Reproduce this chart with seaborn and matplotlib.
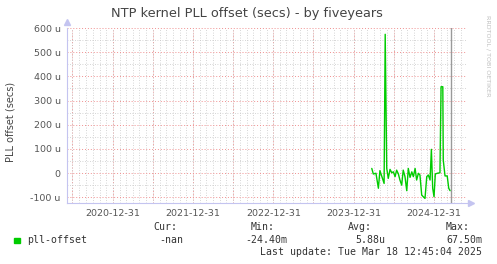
import matplotlib
matplotlib.use("Agg")
import matplotlib.pyplot as plt
import matplotlib.dates as mdates
import pandas as pd
import seaborn as sns

# ---- data ----
dates = ["2024-03-23", "2024-03-30", "2024-04-11", "2024-04-22", "2024-04-29",
         "2024-05-08", "2024-05-18", "2024-05-23", "2024-05-30", "2024-06-06",
         "2024-06-14", "2024-06-22", "2024-06-29", "2024-07-07", "2024-07-14",
         "2024-07-22", "2024-07-29", "2024-08-06", "2024-08-13", "2024-08-21",
         "2024-08-29", "2024-09-05", "2024-09-13", "2024-09-21", "2024-09-28",
         "2024-10-06", "2024-10-13", "2024-10-21", "2024-10-28", "2024-11-05",
         "2024-11-12", "2024-11-20", "2024-11-28", "2024-12-05", "2024-12-13",
         "2024-12-19", "2024-12-25", "2024-12-31", "2025-01-06", "2025-01-15",
         "2025-01-27", "2025-02-01", "2025-02-09", "2025-02-11", "2025-02-19",
         "2025-03-01", "2025-03-08", "2025-03-14"]
offset_us = [19, -4, -1, -63, 10,
             -15, -43, 574, 19, -22,
             15, 1, 5, -15, 12,
             -4, -29, -50, 12, -15,
             -73, 19, -18, 5, -15,
             19, -29, -1, -8, -91,
             -98, -105, -15, -8, -29,
             98, -63, -98, -4, -1,
             1, 357, 357, 54, -12,
             -12, -63, -73]

tick_dates = ["2020-12-31", "2021-12-31", "2022-12-31", "2023-12-31", "2024-12-31"]
tick_labels = ["2020-12-31", "2021-12-31", "2022-12-31", "2023-12-31", "2024-12-31"]
mid_dates = ["2020-06-30", "2021-06-30", "2022-06-30", "2023-06-30", "2024-06-30"]
y_ticks = [-100, 0, 100, 200, 300, 400, 500, 600]
y_tick_labels = ["-100 u", "0", "100 u", "200 u", "300 u", "400 u", "500 u", "600 u"]

title = "NTP kernel PLL offset (secs) - by fiveyears"
ylabel = "PLL offset (secs)"
series_name = "pll-offset"
stat_heads = ["Cur:", "Min:", "Avg:", "Max:"]
stat_vals = ["-nan", "-24.40m", "5.88u", "67.50m"]
last_update = "Last update: Tue Mar 18 12:45:04 2025"
now_date = "2025-03-18"
x_start, x_end = "2020-06-06", "2025-05-30"

df = pd.DataFrame({"date": pd.to_datetime(dates), "offset": offset_us})

sns.set_theme(style="white")
plt.rcParams["font.family"] = ["DejaVu Sans"]

W, H = 497, 264
fig = plt.figure(figsize=(W / 100, H / 100), dpi=100)
fig.patch.set_facecolor("white")
ax = fig.add_axes([67 / W, (H - 203) / H, 400 / W, 175 / H])
ax.set_facecolor("white")

red = "#F09090"
grey = "#C8C8C8"
axis_col = "#C4C4F0"
txt = "#555555"

# grid
ax.xaxis_date()
major_locs = sorted(pd.to_datetime(tick_dates + mid_dates))
lab_map = dict(zip(pd.to_datetime(tick_dates), tick_labels))
ax.set_xticks(major_locs)
ax.set_xticklabels([lab_map.get(d, "") for d in major_locs])
ax.xaxis.set_minor_locator(mdates.MonthLocator())
ax.set_yticks(y_ticks)
ax.set_yticklabels(y_tick_labels)
ax.set_yticks([v + 50 for v in y_ticks[:-1]], minor=True)
ax.set_xlim(pd.Timestamp(x_start), pd.Timestamp(x_end))
ax.set_ylim(-124, 600)

ax.grid(True, which="minor", color=grey, linestyle=(0, (1, 2)), linewidth=0.6)
ax.grid(True, which="major", color=red, linestyle=(0, (1, 2)), linewidth=0.7)
ax.set_axisbelow(True)

ax.tick_params(axis="both", which="major", length=2.5, width=0.6, color=red,
               labelsize=6.8, labelcolor=txt, pad=2)
ax.tick_params(axis="both", which="minor", length=1.5, width=0.5, color=grey)

for s in ["top", "right"]:
    ax.spines[s].set_visible(False)
for s in ["left", "bottom"]:
    ax.spines[s].set_color(axis_col)
    ax.spines[s].set_linewidth(0.8)

# now line
ax.axvline(pd.Timestamp(now_date), color="#999999", lw=1, zorder=3)

# data line
sns.lineplot(data=df, x="date", y="offset", ax=ax, color="#00CC00", lw=1,
             zorder=4, legend=False)
ax.set_xlabel("")
ax.set_ylabel("")

# axis arrows
ax.plot([0], [1.035], marker="^", color=axis_col, markersize=4,
        transform=ax.transAxes, clip_on=False)
ax.plot([1.01], [0], marker=">", color=axis_col, markersize=4,
        transform=ax.transAxes, clip_on=False)

# texts
def fx(x):
    return x / W

def fy(y):
    return 1 - y / H

fig.text(fx(247), fy(14), title, ha="center", va="center", fontsize=9.3, color="#444444")
fig.text(fx(11), fy(122), ylabel, ha="center", va="center", rotation=90,
         fontsize=7, color="#444444")
fig.text(fx(488), fy(15), "RRDTOOL / TOBI OETIKER", ha="center", va="top",
         rotation=270, fontsize=4.6, color="#C0C0C0")

mono = "DejaVu Sans Mono"
fs = 7.1
fig.patches.append(plt.Rectangle((fx(14), fy(243)), 6 / W, 5 / H,
                                 transform=fig.transFigure, color="#00CC00"))
fig.text(fx(27), fy(240), series_name, ha="left", va="center", family=mono,
         fontsize=fs, color="#333333")
head_x = [177, 275, 372, 470]
val_x = [183, 287, 385, 482]
for h, hx in zip(stat_heads, head_x):
    fig.text(fx(hx), fy(227), h, ha="right", va="center", family=mono,
             fontsize=fs, color="#333333")
for v, vx in zip(stat_vals, val_x):
    fig.text(fx(vx), fy(240), v, ha="right", va="center", family=mono,
             fontsize=fs, color="#333333")
fig.text(fx(482), fy(252), last_update, ha="right", va="center", family=mono,
         fontsize=fs, color="#333333")

fig.savefig("out.png", dpi=100, facecolor="white")
